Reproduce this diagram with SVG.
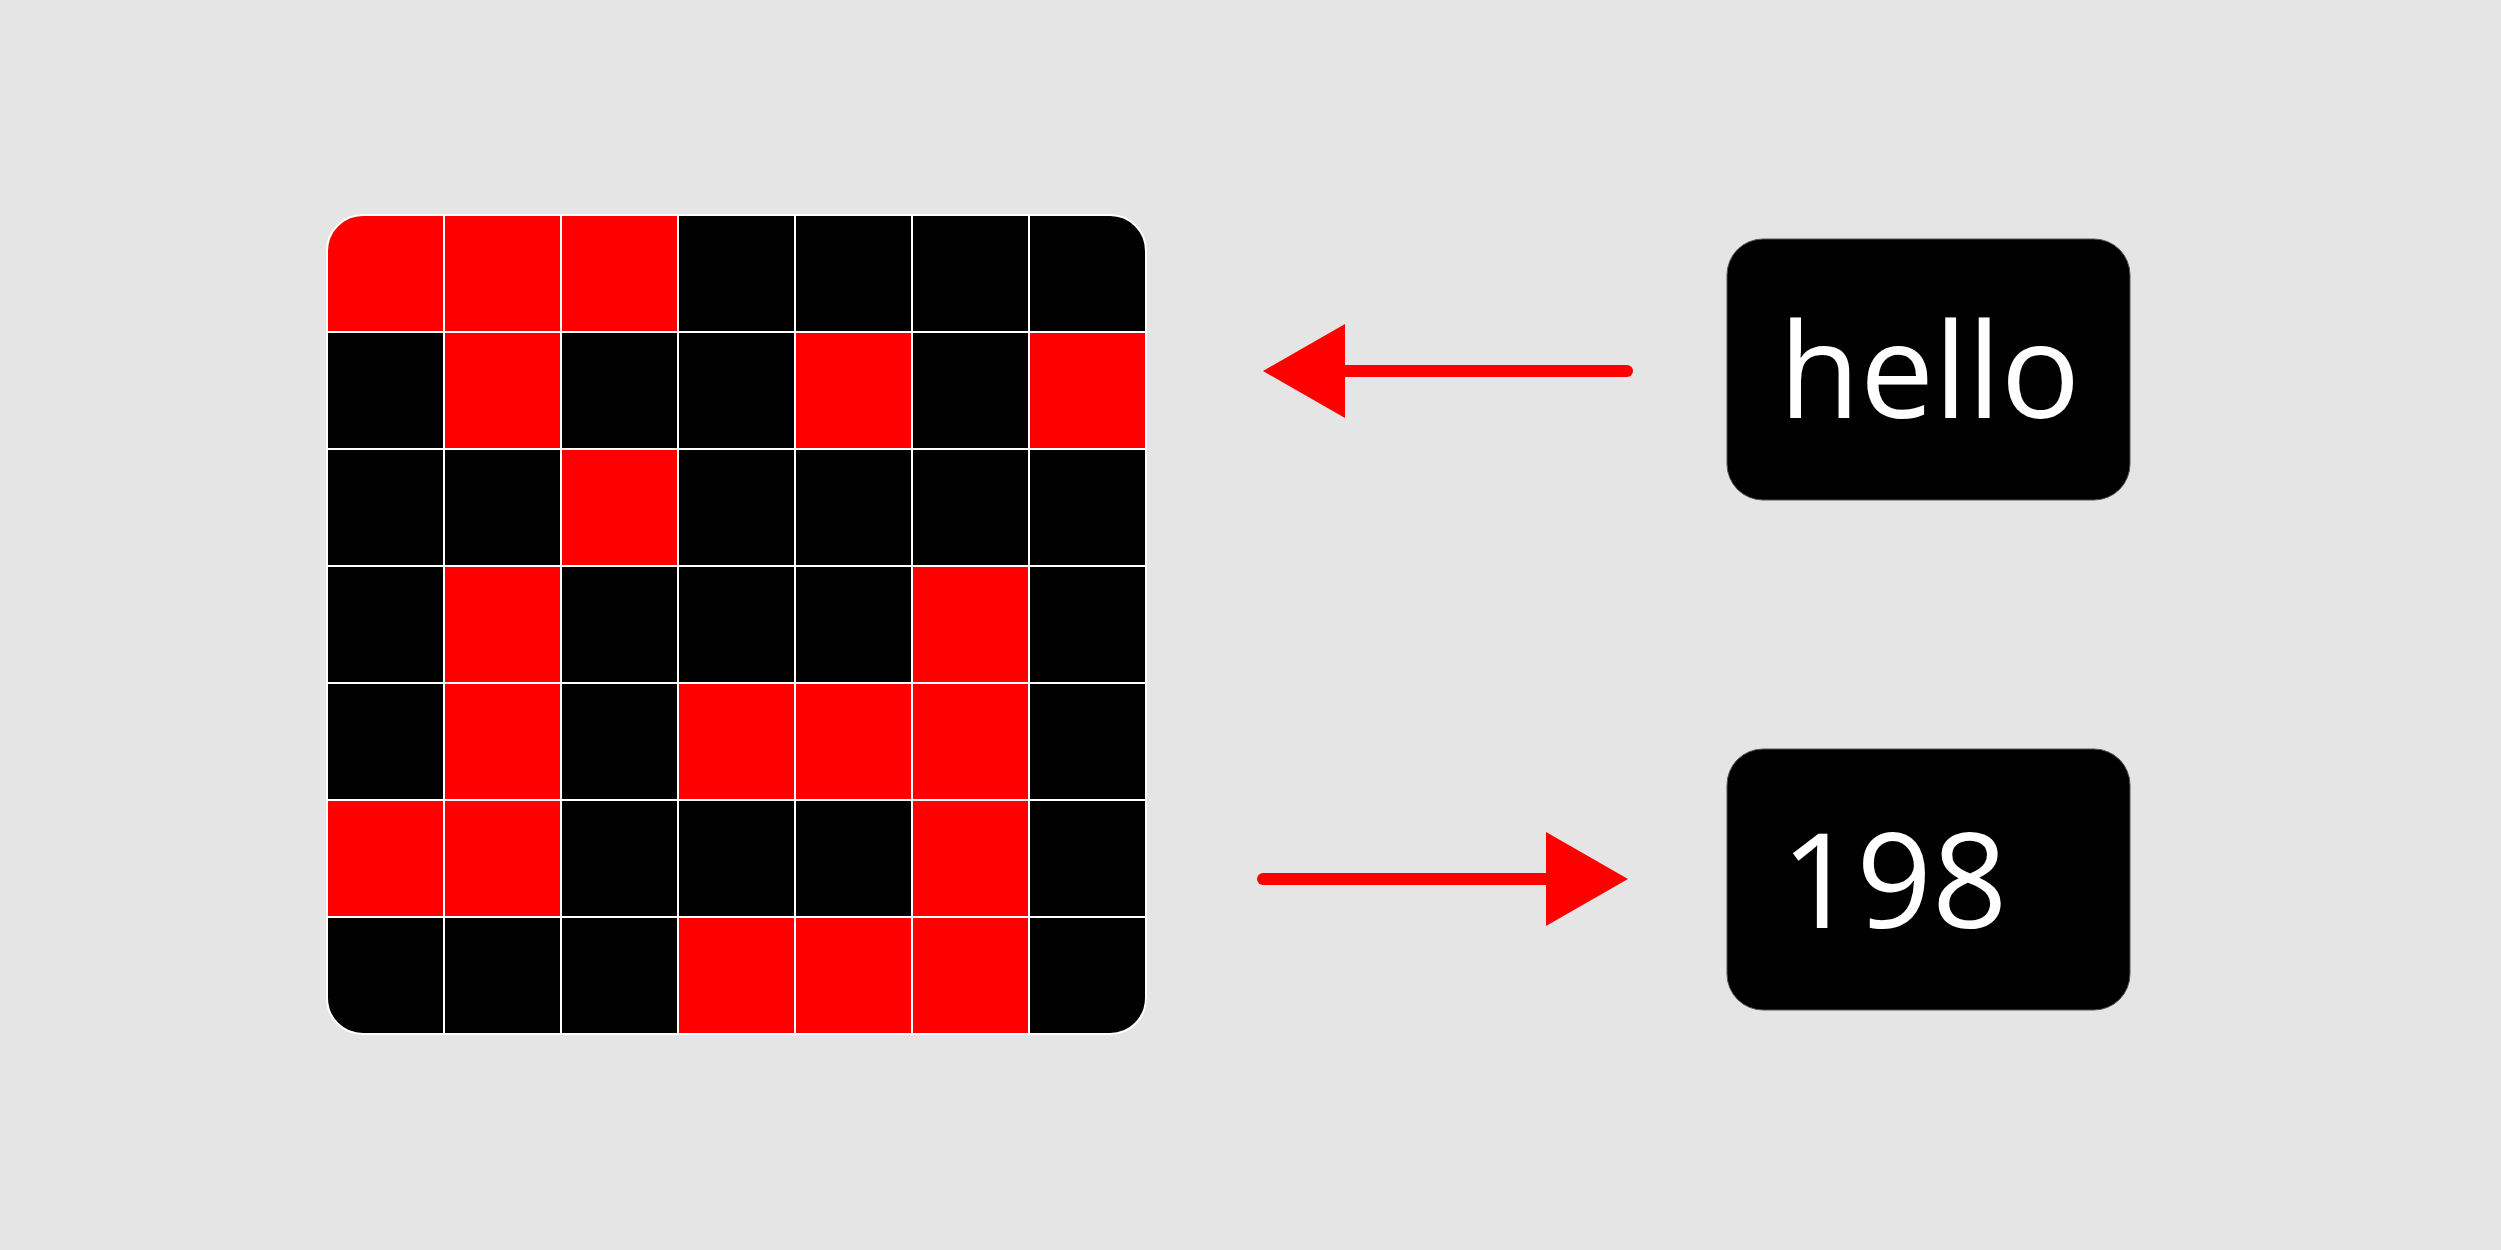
<svg xmlns="http://www.w3.org/2000/svg" width="2501" height="1250" viewBox="0 0 2501 1250">
<style>
.r{fill:#ff0000}
.b{fill:#000000}
.gl{stroke:#ffffff;stroke-width:2;fill:none}
.box{fill:#000000;stroke:#555;stroke-width:1}
.lbl{font-family:"Open Sans","Noto Sans",sans-serif;font-size:132px;fill:#ffffff}
.conn{stroke:#ff0000;stroke-width:12;stroke-linecap:round;fill:none}
.head{fill:#ff0000}
</style>
<defs>
<clipPath id="gc"><rect x="327" y="215" width="819" height="819" rx="36" ry="36"/></clipPath>
</defs>
<rect width="2501" height="1250" fill="#e5e5e5"/>
<g id="grid" clip-path="url(#gc)">
<rect x="327" y="215" width="819" height="819" class="b"/>
<rect class="r" x="327" y="215" width="117" height="117"/>
<rect class="r" x="444" y="215" width="117" height="117"/>
<rect class="r" x="561" y="215" width="117" height="117"/>
<rect class="r" x="444" y="332" width="117" height="117"/>
<rect class="r" x="795" y="332" width="117" height="117"/>
<rect class="r" x="1029" y="332" width="117" height="117"/>
<rect class="r" x="561" y="449" width="117" height="117"/>
<rect class="r" x="444" y="566" width="117" height="117"/>
<rect class="r" x="912" y="566" width="117" height="117"/>
<rect class="r" x="444" y="683" width="117" height="117"/>
<rect class="r" x="678" y="683" width="117" height="117"/>
<rect class="r" x="795" y="683" width="117" height="117"/>
<rect class="r" x="912" y="683" width="117" height="117"/>
<rect class="r" x="327" y="800" width="117" height="117"/>
<rect class="r" x="444" y="800" width="117" height="117"/>
<rect class="r" x="912" y="800" width="117" height="117"/>
<rect class="r" x="678" y="917" width="117" height="117"/>
<rect class="r" x="795" y="917" width="117" height="117"/>
<rect class="r" x="912" y="917" width="117" height="117"/>
<path class="gl" d="M444 215V1034M561 215V1034M678 215V1034M795 215V1034M912 215V1034M1029 215V1034M327 332H1146M327 449H1146M327 566H1146M327 683H1146M327 800H1146M327 917H1146"/>
</g>
<rect class="gl" x="327" y="215" width="819" height="819" rx="36" ry="36"/>
<g id="node-hello">
<rect class="box" x="1727" y="239" width="403" height="261" rx="36" ry="36"/>
<text class="lbl" x="1779" y="418">hello</text>
</g>
<g id="node-198">
<rect class="box" x="1727" y="749" width="403" height="261" rx="36" ry="36"/>
<text class="lbl" x="1781" y="928">198</text>
</g>
<g id="connectors">
<line class="conn" x1="1627" y1="371" x2="1340" y2="371"/>
<polygon class="head" points="1263,371 1345,324 1345,418"/>
<line class="conn" x1="1263" y1="879" x2="1550" y2="879"/>
<polygon class="head" points="1628,879 1546,832 1546,926"/>
</g>
</svg>
